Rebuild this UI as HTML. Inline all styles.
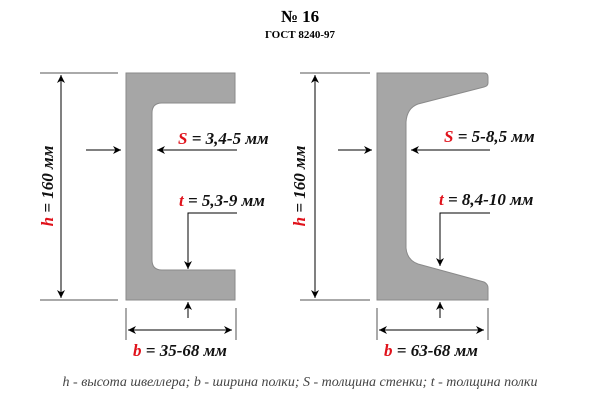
<!DOCTYPE html>
<html><head><meta charset="utf-8"><style>
html,body{margin:0;padding:0;background:#fff;width:600px;height:400px;overflow:hidden}
text{font-family:"Liberation Serif","DejaVu Serif",serif}
.lab{font-style:italic;font-weight:bold;font-size:17px;fill:#111}
.red{fill:#e0121b}
</style></head><body>
<svg width="600" height="400" viewBox="0 0 600 400">
<defs>
<marker id="ah" viewBox="0 0 10 10" refX="10" refY="5" markerWidth="9" markerHeight="8" markerUnits="userSpaceOnUse" orient="auto-start-reverse"><path d="M0,0 L10,5 L0,10 L3,5 z" fill="#000"/></marker>
</defs>
<text x="300" y="22" text-anchor="middle" font-size="17" font-weight="bold">№ 16</text>
<text x="300" y="38" text-anchor="middle" font-size="11" font-weight="bold">ГОСТ 8240-97</text>

<g>
<path d="M126,73 H235 V103 H162 Q152,103 152,113 V260 Q152,270 162,270 H235 V300 H126 Z" fill="#a6a6a6" stroke="#8a8a8a" stroke-width="1"/>
<g stroke="#000" stroke-width="1" fill="none">
<line x1="40" y1="73" x2="118" y2="73" stroke="#555"/>
<line x1="40" y1="300" x2="118" y2="300" stroke="#555"/>
<line x1="61" y1="75" x2="61" y2="298" marker-start="url(#ah)" marker-end="url(#ah)"/>
<line x1="86" y1="150" x2="121" y2="150" marker-end="url(#ah)"/>
<line x1="237" y1="150" x2="157" y2="150" marker-end="url(#ah)"/>
<polyline points="237,213 188,213 188,269" marker-end="url(#ah)"/>
<line x1="188" y1="318" x2="188" y2="302" marker-end="url(#ah)"/>
<line x1="126" y1="308" x2="126" y2="340" stroke="#555"/>
<line x1="236" y1="308" x2="236" y2="340" stroke="#555"/>
<line x1="128" y1="330" x2="232" y2="330" marker-start="url(#ah)" marker-end="url(#ah)"/>
</g>
<text class="lab" transform="translate(53,186) rotate(-90)" text-anchor="middle"><tspan class="red">h</tspan> = 160 мм</text>
<text class="lab" x="178" y="144"><tspan class="red">S</tspan> = 3,4-5 мм</text>
<text class="lab" x="179" y="206"><tspan class="red">t</tspan> = 5,3-9 мм</text>
<text class="lab" x="180" y="356" text-anchor="middle"><tspan class="red">b</tspan> = 35-68 мм</text>
</g>

<g>
<path d="M377,73 H484 Q488,73 488,77 V83 Q488,86 484,87 L418,104 Q407,108 406,122 V248 Q407,260 418,264 L484,282 Q488,284 488,288 V300 H377 Z" fill="#a6a6a6" stroke="#8a8a8a" stroke-width="1"/>
<g stroke="#000" stroke-width="1" fill="none">
<line x1="300" y1="73" x2="370" y2="73" stroke="#555"/>
<line x1="300" y1="300" x2="370" y2="300" stroke="#555"/>
<line x1="315" y1="75" x2="315" y2="298" marker-start="url(#ah)" marker-end="url(#ah)"/>
<line x1="338" y1="150" x2="372" y2="150" marker-end="url(#ah)"/>
<line x1="490" y1="150" x2="411" y2="150" marker-end="url(#ah)"/>
<polyline points="490,213 440,213 440,266" marker-end="url(#ah)"/>
<line x1="440" y1="318" x2="440" y2="302" marker-end="url(#ah)"/>
<line x1="377" y1="308" x2="377" y2="340" stroke="#555"/>
<line x1="488" y1="308" x2="488" y2="340" stroke="#555"/>
<line x1="379" y1="330" x2="484" y2="330" marker-start="url(#ah)" marker-end="url(#ah)"/>
</g>
<text class="lab" transform="translate(305,186) rotate(-90)" text-anchor="middle"><tspan class="red">h</tspan> = 160 мм</text>
<text class="lab" x="444" y="142"><tspan class="red">S</tspan> = 5-8,5 мм</text>
<text class="lab" x="439" y="205"><tspan class="red">t</tspan> = 8,4-10 мм</text>
<text class="lab" x="431" y="356" text-anchor="middle"><tspan class="red">b</tspan> = 63-68 мм</text>
</g>

<text x="300" y="386" text-anchor="middle" font-size="14" font-style="italic" fill="#444">h - высота швеллера; b - ширина полки; S - толщина стенки; t - толщина полки</text>
</svg>
</body></html>
